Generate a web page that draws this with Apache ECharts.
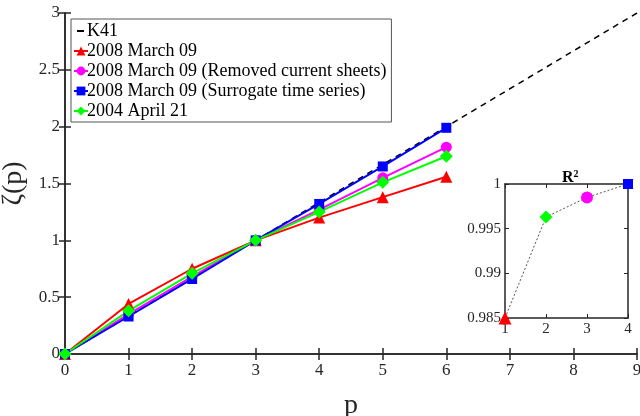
<!DOCTYPE html>
<html>
<head>
<meta charset="utf-8">
<script src="https://cdn.jsdelivr.net/npm/echarts@6/dist/echarts.min.js"></script>
<style>
  html, body { margin: 0; padding: 0; background: #fff; }
  #chart { width: 640px; height: 416px; }
</style>
</head>
<body>
<div id="chart"></div>
<script>
// scaling exponents zeta(p) for p = 0..6
const p = [0, 1, 2, 3, 4, 5, 6];
const march09 = [0, 0.44, 0.75, 1.0, 1.20, 1.38, 1.56];
const march09Removed = [0, 0.35, 0.68, 1.0, 1.27, 1.55, 1.82];
const march09Surrogate = [0, 0.33, 0.66, 1.0, 1.32, 1.65, 1.99];
const april21 = [0, 0.38, 0.71, 1.0, 1.25, 1.51, 1.74];
// K41 reference line p/3
const k41P = [0, 9];
const k41 = [0, 3];
// inset: goodness of fit
const insetX = [1, 2, 3, 4];
const r2 = [0.985, 0.9963, 0.9985, 1.0];

const font = "'Liberation Serif', 'Times New Roman', serif";
const axisCol = '#262626';

function pairs(xs, ys) {
  return xs.map((x, i) => [x, ys[i]]);
}

const insetStyles = [
  { symbol: 'triangle', color: '#ff0000', size: 13 },
  { symbol: 'diamond', color: '#00ff00', size: 13 },
  { symbol: 'circle', color: '#ff00ff', size: 12 },
  { symbol: 'rect', color: '#0000ff', size: 10 }
];

const chart = echarts.init(document.getElementById('chart'));

const mainAxisCommon = {
  axisLine: { lineStyle: { color: axisCol, width: 1.5 } },
  axisTick: { inside: true, length: 6, lineStyle: { color: axisCol, width: 1.5 } },
  splitLine: { show: false }
};

const insetAxisCommon = {
  axisLine: { lineStyle: { color: axisCol, width: 1.5 } },
  axisTick: { inside: true, length: 4, lineStyle: { color: axisCol } },
  splitLine: { show: false }
};

function line(name, data, color, symbol, size) {
  return {
    name: name,
    type: 'line',
    data: pairs(p, data),
    xAxisIndex: 0,
    yAxisIndex: 0,
    symbol: symbol,
    symbolSize: size,
    clip: false,
    lineStyle: { color: color, width: 2 },
    itemStyle: { color: color },
    z: 3
  };
}

chart.setOption({
  animation: false,
  title: {
    text: '{b|R}{s|2}',
    left: 557,
    top: 164,
    textStyle: {
      rich: {
        b: { fontFamily: font, fontWeight: 'bold', fontSize: 16, color: '#000' },
        s: { fontFamily: font, fontWeight: 'bold', fontSize: 10, color: '#000', verticalAlign: 'top', padding: [0, 0, 8, 0] }
      }
    }
  },
  legend: {
    orient: 'vertical',
    left: 71,
    top: 19,
    padding: [3, 5, 2, 2],
    itemGap: 2,
    itemWidth: 14,
    itemHeight: 11,
    backgroundColor: '#fff',
    borderColor: '#555',
    borderWidth: 1,
    borderRadius: 0,
    textStyle: { fontFamily: font, fontSize: 18, color: '#000', padding: [0, 0, 0, -6] },
    data: [
      { name: 'K41', itemStyle: { opacity: 0 }, lineStyle: { type: [7, 20], dashOffset: 24, width: 2 } },
      '2008 March 09',
      '2008 March 09 (Removed current sheets)',
      '2008 March 09 (Surrogate time series)',
      '2004 April 21'
    ]
  },
  grid: [
    { left: 65, right: 3, top: 13, bottom: 62, outerBoundsMode: 'none' },
    { left: 505, width: 123, top: 184, height: 134, backgroundColor: '#fff', show: true, borderWidth: 0, outerBoundsMode: 'none' }
  ],
  xAxis: [
    Object.assign({
      type: 'value', gridIndex: 0, min: 0, max: 9, interval: 1,
      name: 'p', nameLocation: 'middle', nameGap: 38,
      nameTextStyle: { fontFamily: font, fontSize: 28, color: axisCol },
      axisLabel: { fontFamily: font, fontSize: 17, color: axisCol, margin: 8 }
    }, mainAxisCommon),
    Object.assign({
      type: 'value', gridIndex: 0, min: 0, max: 9, interval: 1, position: 'top',
      axisLabel: { show: false }
    }, mainAxisCommon),
    Object.assign({
      type: 'value', gridIndex: 1, min: 1, max: 4, interval: 1,
      axisLabel: { fontFamily: font, fontSize: 15, color: axisCol, margin: 4 }
    }, insetAxisCommon),
    Object.assign({
      type: 'value', gridIndex: 1, min: 1, max: 4, interval: 1, position: 'top',
      axisLabel: { show: false }
    }, insetAxisCommon)
  ],
  yAxis: [
    Object.assign({
      type: 'value', gridIndex: 0, min: 0, max: 3, interval: 0.5,
      name: 'ζ(p)', nameLocation: 'middle', nameGap: 34,
      nameTextStyle: { fontFamily: font, fontSize: 28, color: axisCol },
      axisLabel: { fontFamily: font, fontSize: 17, color: axisCol, margin: 5 }
    }, mainAxisCommon),
    Object.assign({
      type: 'value', gridIndex: 0, min: 0, max: 3, interval: 0.5, position: 'right',
      axisLabel: { show: false }
    }, mainAxisCommon),
    Object.assign({
      type: 'value', gridIndex: 1, min: 0.985, max: 1, interval: 0.005,
      axisLabel: { fontFamily: font, fontSize: 15, color: axisCol, margin: 4 }
    }, insetAxisCommon),
    Object.assign({
      type: 'value', gridIndex: 1, min: 0.985, max: 1, interval: 0.005, position: 'right',
      axisLabel: { show: false }
    }, insetAxisCommon)
  ],
  series: [
    {
      name: 'K41',
      type: 'line',
      data: pairs(k41P, k41),
      xAxisIndex: 0,
      yAxisIndex: 0,
      symbol: 'none',
      lineStyle: { color: '#000', width: 1.5, type: [6, 5] },
      itemStyle: { color: '#000' },
      z: 2
    },
    line('2008 March 09', march09, '#ff0000', 'triangle', 12),
    line('2008 March 09 (Removed current sheets)', march09Removed, '#ff00ff', 'circle', 11),
    line('2008 March 09 (Surrogate time series)', march09Surrogate, '#0000ff', 'rect', 10),
    line('2004 April 21', april21, '#00ff00', 'diamond', 13),
    {
      name: 'R2',
      type: 'line',
      xAxisIndex: 2,
      yAxisIndex: 2,
      clip: false,
      lineStyle: { color: '#555', width: 1, type: [2, 2] },
      data: insetX.map((x, i) => ({
        value: [x, r2[i]],
        symbol: insetStyles[i].symbol,
        symbolSize: insetStyles[i].size,
        itemStyle: { color: insetStyles[i].color }
      })),
      z: 5
    }
  ]
});
</script>
</body>
</html>
